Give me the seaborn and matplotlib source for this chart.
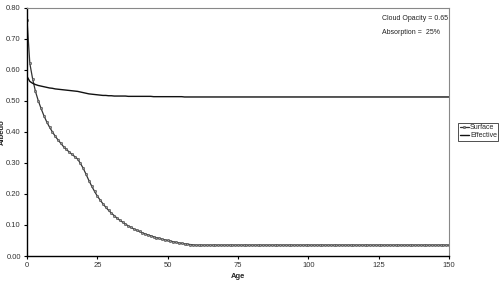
import numpy as np
import pandas as pd
import matplotlib
matplotlib.use('Agg')
import matplotlib.pyplot as plt
import seaborn as sns

ages = list(range(0, 151))

surface_head = [0.76, 0.62, 0.57, 0.53, 0.50, 0.475, 0.452, 0.432, 0.415, 0.400,
                0.386, 0.374, 0.363, 0.352, 0.343, 0.335, 0.327, 0.320, 0.312, 0.298,
                0.282, 0.263, 0.243, 0.225, 0.208, 0.193, 0.180, 0.168, 0.157, 0.147,
                0.138, 0.130, 0.122, 0.115, 0.109, 0.103, 0.097, 0.092, 0.087, 0.083,
                0.079, 0.075, 0.071, 0.068, 0.065, 0.062, 0.059, 0.057, 0.054, 0.052,
                0.050, 0.048, 0.046, 0.044, 0.042, 0.041, 0.039, 0.038, 0.037, 0.036,
                0.035]
surface_tail = [0.035] * 90
surface = surface_head + surface_tail

effective_head = [0.578, 0.562, 0.556, 0.552, 0.549, 0.547, 0.545, 0.543, 0.541, 0.540,
                  0.538, 0.537, 0.536, 0.535, 0.534, 0.533, 0.532, 0.531, 0.530, 0.528,
                  0.526, 0.524, 0.522, 0.521, 0.520, 0.519, 0.518, 0.517, 0.517, 0.516,
                  0.516, 0.515, 0.515, 0.515, 0.515, 0.515, 0.514, 0.514, 0.514, 0.514,
                  0.514, 0.514, 0.514, 0.514, 0.514, 0.513, 0.513, 0.513, 0.513, 0.513,
                  0.513, 0.513, 0.513, 0.513, 0.513, 0.513, 0.512, 0.512, 0.512, 0.512,
                  0.512]
effective_tail = [0.512] * 90
effective = effective_head + effective_tail

x_ticks = [0, 25, 50, 75, 100, 125, 150]
y_ticks = [0.0, 0.1, 0.2, 0.3, 0.4, 0.5, 0.6, 0.7, 0.8]

sns.set_style("white")
plt.rcParams['font.family'] = ['Liberation Sans', 'DejaVu Sans']

df = pd.DataFrame({"Age": ages, "Surface": surface, "Effective": effective})

fig = plt.figure(figsize=(5.03, 2.83), dpi=100)
ax = fig.add_axes([0.0537, 0.0954, 0.8389, 0.878])

sns.lineplot(x="Age", y="Surface", data=df, ax=ax, color="#333333", lw=0.9,
             marker="o", markersize=1.7, markerfacecolor="#999999",
             markeredgecolor="#444444", markeredgewidth=0.4, label="Surface")
sns.lineplot(x="Age", y="Effective", data=df, ax=ax, color="#111111", lw=1.0,
             label="Effective")

ax.set_xlim(0, 150)
ax.set_ylim(0, 0.8)
ax.set_xticks(x_ticks)
ax.set_yticks(y_ticks)
ax.set_yticklabels([f"{v:.2f}" for v in y_ticks])
ax.tick_params(labelsize=5.5, length=2.5, width=0.8, color="black", pad=2,
               labelcolor="#333333")
ax.tick_params(axis="x", bottom=True)
ax.tick_params(axis="y", left=True)
ax.set_xlabel("Age", fontsize=5.5, fontweight="bold", labelpad=3)
ax.set_ylabel("Albedo", fontsize=5.5, fontweight="bold")
ax.yaxis.set_label_coords(-0.05, 0.5)

for side in ["left", "bottom"]:
    ax.spines[side].set_color("black")
    ax.spines[side].set_linewidth(1.0)
for side in ["top", "right"]:
    ax.spines[side].set_color("#888888")
    ax.spines[side].set_linewidth(0.8)

ax.text(0.842, 0.955, "Cloud Opacity = 0.65", transform=ax.transAxes,
        fontsize=5, color="#222222", va="center")
ax.text(0.842, 0.9, "Absorption =  25%", transform=ax.transAxes,
        fontsize=5, color="#222222", va="center")

leg = ax.legend(loc="center left", bbox_to_anchor=(1.022, 0.5), fontsize=5,
                frameon=True, fancybox=False, handlelength=1.3, handletextpad=0.2,
                borderpad=0.2, labelspacing=0.1, borderaxespad=0.0)
leg.get_frame().set_edgecolor("black")
leg.get_frame().set_linewidth(0.6)

fig.savefig("out.png", dpi=100)
